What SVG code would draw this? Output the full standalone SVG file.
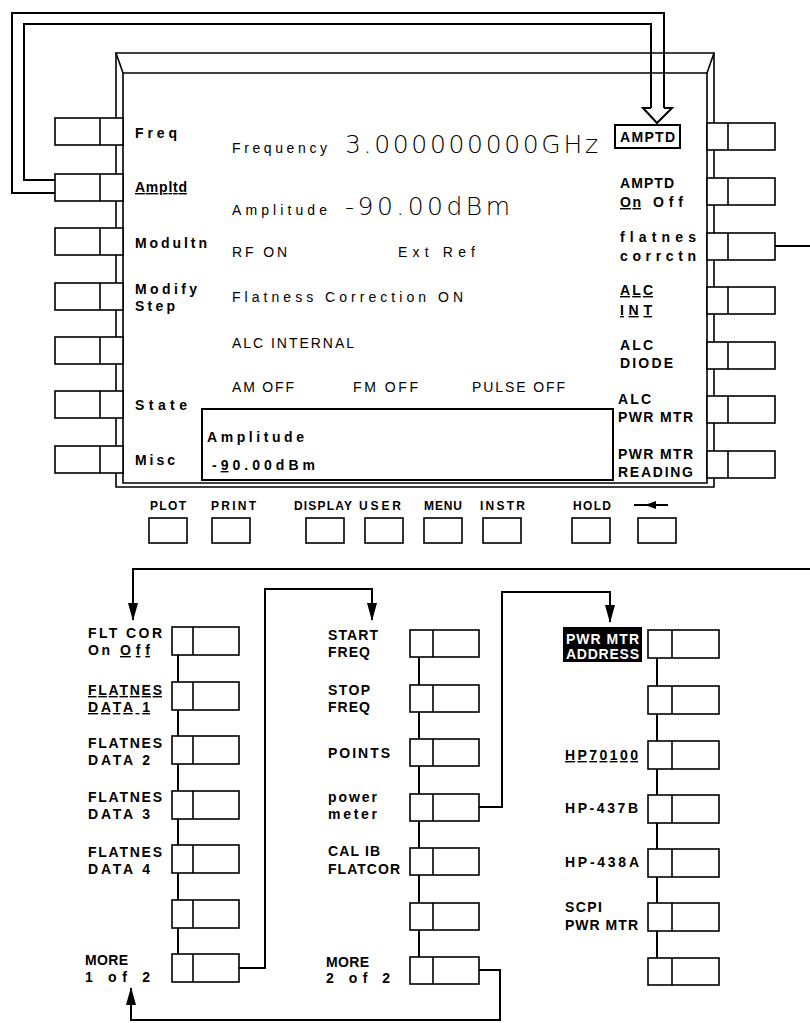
<svg xmlns="http://www.w3.org/2000/svg" width="810" height="1023" viewBox="0 0 810 1023">
<style>
.k{fill:#fff;stroke:#000;stroke-width:1.6}
.c{fill:none;stroke:#000;stroke-width:2}
.bz{fill:none;stroke:#000;stroke-width:1.6}
.lb{font-family:"Liberation Sans",Arial,sans-serif;font-weight:bold;font-size:14px;fill:#000}
.sm{font-size:12px}
.sc{font-family:"Liberation Sans",Arial,sans-serif;font-size:14px;fill:#000}
.big{font-family:"DejaVu Sans","Liberation Sans",sans-serif;font-size:25px;font-weight:200;fill:#000}
.u{text-decoration:underline}
.inv{fill:#fff}
</style>
<defs>
<marker id="ah" markerUnits="userSpaceOnUse" markerWidth="18" markerHeight="10" refX="17" refY="5" orient="auto">
<path d="M0,0 L18,5 L0,10 Z" fill="#000"/>
</marker>
</defs>
<rect width="810" height="1023" fill="#fff"/>

<g id="connectors">
<path class="c" d="M55,193 H12 V13 H664 V108"/>
<path class="c" d="M55,180 H24 V24 H651 V108"/>
<path class="c" d="M651,108 H643 L657,123 L672,108 H664" fill="#fff"/>
<path class="c" d="M775,246 H810"/>
<path class="c" d="M810,569 H133 V620" marker-end="url(#ah)"/>
<path class="c" d="M239,968 H265 V589 H372 V620" marker-end="url(#ah)"/>
<path class="c" d="M479,807 H502 V592 H610 V622" marker-end="url(#ah)"/>
<path class="c" d="M479,970 H500 V1020 H131 V988" marker-end="url(#ah)"/>
</g>

<g id="bezel">
<path class="bz" d="M116,53 H714 V487 H116 Z" stroke-width="2.4"/>
<path class="bz" d="M123,73 H707 V483 H123 Z"/>
<path class="bz" d="M116,53 L123,73 M714,53 L707,73"/>
</g>

<g id="screen">
<text class="sc" x="232" y="153" textLength="95" lengthAdjust="spacing">Frequency</text>
<text class="big" x="345" y="153" textLength="253" lengthAdjust="spacing">3.000000000GHz</text>
<text class="sc" x="232" y="215" textLength="95" lengthAdjust="spacing">Amplitude</text>
<text class="big" x="345" y="215" textLength="165" lengthAdjust="spacing">-90.00dBm</text>
<text class="sc" x="232" y="257" textLength="55" lengthAdjust="spacing">RF ON</text>
<text class="sc" x="398" y="257" textLength="77" lengthAdjust="spacing">Ext Ref</text>
<text class="sc" x="232" y="302" textLength="231" lengthAdjust="spacing">Flatness Correction ON</text>
<text class="sc" x="232" y="348" textLength="122" lengthAdjust="spacing">ALC INTERNAL</text>
<text class="sc" x="232" y="392" textLength="62" lengthAdjust="spacing">AM OFF</text>
<text class="sc" x="353" y="392" textLength="65" lengthAdjust="spacing">FM OFF</text>
<text class="sc" x="472" y="392" textLength="93" lengthAdjust="spacing">PULSE OFF</text>
</g>

<g id="entry-box">
<rect x="202" y="409" width="411" height="71" fill="#fff" stroke="#000" stroke-width="2"/>
<text class="lb" x="207" y="442" textLength="97" lengthAdjust="spacing">Amplitude</text>
<text class="lb" x="212" y="470" textLength="103" lengthAdjust="spacing">-<tspan class="u">9</tspan>0.00dBm</text>
</g>

<g id="left-keys">
<g id="key-freq"><rect class="k" x="55" y="118" width="68" height="27"/><line class="k" x1="100" y1="118" x2="100" y2="145"/><text class="lb" x="135" y="138" textLength="42" lengthAdjust="spacing">Freq</text></g>
<g id="key-ampltd"><rect class="k" x="55" y="174" width="68" height="27"/><line class="k" x1="100" y1="174" x2="100" y2="201"/><text class="lb u" x="135" y="192" textLength="52" lengthAdjust="spacing">Ampltd</text></g>
<g id="key-modultn"><rect class="k" x="55" y="228" width="68" height="27"/><line class="k" x1="100" y1="228" x2="100" y2="255"/><text class="lb" x="135" y="248" textLength="72" lengthAdjust="spacing">Modultn</text></g>
<g id="key-modify"><rect class="k" x="55" y="283" width="68" height="27"/><line class="k" x1="100" y1="283" x2="100" y2="310"/><text class="lb" x="135" y="294" textLength="62" lengthAdjust="spacing">Modify</text><text class="lb" x="135" y="311" textLength="40" lengthAdjust="spacing">Step</text></g>
<g id="key-blank1"><rect class="k" x="55" y="337" width="68" height="27"/><line class="k" x1="100" y1="337" x2="100" y2="364"/></g>
<g id="key-state"><rect class="k" x="55" y="391" width="68" height="27"/><line class="k" x1="100" y1="391" x2="100" y2="418"/><text class="lb" x="135" y="410" textLength="52" lengthAdjust="spacing">State</text></g>
<g id="key-misc"><rect class="k" x="55" y="446" width="68" height="27"/><line class="k" x1="100" y1="446" x2="100" y2="473"/><text class="lb" x="135" y="465" textLength="40" lengthAdjust="spacing">Misc</text></g>
</g>

<g id="right-keys">
<g id="key-amptd"><rect class="k" x="707" y="123" width="68" height="27"/><line class="k" x1="728" y1="123" x2="728" y2="150"/><rect x="615" y="125" width="65" height="23" fill="none" stroke="#000" stroke-width="2"/><text class="lb" x="620" y="142" textLength="55" lengthAdjust="spacing">AMPTD</text></g>
<g id="key-amptd-onoff"><rect class="k" x="707" y="178" width="68" height="27"/><line class="k" x1="728" y1="178" x2="728" y2="205"/><text class="lb" x="620" y="188" textLength="54" lengthAdjust="spacing">AMPTD</text><text class="lb u" x="620" y="207" textLength="21" lengthAdjust="spacing">On</text><text class="lb" x="653" y="207" textLength="30" lengthAdjust="spacing">Off</text></g>
<g id="key-flatnes"><rect class="k" x="707" y="233" width="68" height="27"/><line class="k" x1="728" y1="233" x2="728" y2="260"/><text class="lb" x="620" y="242" textLength="76" lengthAdjust="spacing">flatnes</text><text class="lb" x="620" y="261" textLength="76" lengthAdjust="spacing">corrctn</text></g>
<g id="key-alc-int"><rect class="k" x="707" y="287" width="68" height="27"/><line class="k" x1="728" y1="287" x2="728" y2="314"/><text class="lb u" x="620" y="295" textLength="33" lengthAdjust="spacing">ALC</text><text class="lb u" x="620" y="315" textLength="32" lengthAdjust="spacing">INT</text></g>
<g id="key-alc-diode"><rect class="k" x="707" y="342" width="68" height="27"/><line class="k" x1="728" y1="342" x2="728" y2="369"/><text class="lb" x="620" y="350" textLength="33" lengthAdjust="spacing">ALC</text><text class="lb" x="620" y="368" textLength="53" lengthAdjust="spacing">DIODE</text></g>
<g id="key-alc-pwr"><rect class="k" x="707" y="396" width="68" height="27"/><line class="k" x1="728" y1="396" x2="728" y2="423"/><text class="lb" x="618" y="404" textLength="33" lengthAdjust="spacing">ALC</text><text class="lb" x="618" y="422" textLength="75" lengthAdjust="spacing">PWR MTR</text></g>
<g id="key-pwr-reading"><rect class="k" x="707" y="451" width="68" height="27"/><line class="k" x1="728" y1="451" x2="728" y2="478"/><text class="lb" x="618" y="459" textLength="75" lengthAdjust="spacing">PWR MTR</text><text class="lb" x="618" y="477" textLength="75" lengthAdjust="spacing">READING</text></g>
</g>

<g id="bottom-keys">
<g id="key-plot"><text class="lb sm" x="150" y="510" textLength="36" lengthAdjust="spacing">PLOT</text><rect class="k" x="149" y="518" width="38" height="25"/></g>
<g id="key-print"><text class="lb sm" x="211" y="510" textLength="45" lengthAdjust="spacing">PRINT</text><rect class="k" x="212" y="518" width="38" height="25"/></g>
<g id="key-display"><text class="lb sm" x="294" y="510" textLength="58" lengthAdjust="spacing">DISPLAY</text><rect class="k" x="306" y="518" width="38" height="25"/></g>
<g id="key-user"><text class="lb sm" x="359" y="510" textLength="42" lengthAdjust="spacing">USER</text><rect class="k" x="365" y="518" width="38" height="25"/></g>
<g id="key-menu"><text class="lb sm" x="424" y="510" textLength="38" lengthAdjust="spacing">MENU</text><rect class="k" x="424" y="518" width="38" height="25"/></g>
<g id="key-instr"><text class="lb sm" x="480" y="510" textLength="45" lengthAdjust="spacing">INSTR</text><rect class="k" x="483" y="518" width="38" height="25"/></g>
<g id="key-hold"><text class="lb sm" x="573" y="510" textLength="38" lengthAdjust="spacing">HOLD</text><rect class="k" x="572" y="518" width="38" height="25"/></g>
<g id="key-back"><path d="M634,505 H668" stroke="#000" stroke-width="2"/><path d="M645,505 L656,501 V509 Z" fill="#000"/><rect class="k" x="638" y="518" width="38" height="25"/></g>
</g>

<g id="menu-1">
<line class="c" x1="178" y1="640" x2="178" y2="970" stroke-width="2.2"/>
<g id="key-fltcor"><rect class="k" x="172" y="627" width="67" height="28"/><line class="k" x1="193" y1="627" x2="193" y2="655"/><text class="lb" x="88" y="638" textLength="74" lengthAdjust="spacing">FLT COR</text><text class="lb" x="88" y="655" textLength="22" lengthAdjust="spacing">On</text><text class="lb u" x="120" y="655" textLength="30" lengthAdjust="spacing">Off</text></g>
<g id="key-fdata1"><rect class="k" x="172" y="682" width="67" height="28"/><line class="k" x1="193" y1="682" x2="193" y2="710"/><text class="lb u" x="88" y="695" textLength="74" lengthAdjust="spacing">FLATNES</text><text class="lb u" x="88" y="712" textLength="62" lengthAdjust="spacing">DATA 1</text></g>
<g id="key-fdata2"><rect class="k" x="172" y="736" width="67" height="28"/><line class="k" x1="193" y1="736" x2="193" y2="764"/><text class="lb" x="88" y="748" textLength="74" lengthAdjust="spacing">FLATNES</text><text class="lb" x="88" y="765" textLength="62" lengthAdjust="spacing">DATA 2</text></g>
<g id="key-fdata3"><rect class="k" x="172" y="791" width="67" height="28"/><line class="k" x1="193" y1="791" x2="193" y2="819"/><text class="lb" x="88" y="802" textLength="74" lengthAdjust="spacing">FLATNES</text><text class="lb" x="88" y="819" textLength="62" lengthAdjust="spacing">DATA 3</text></g>
<g id="key-fdata4"><rect class="k" x="172" y="845" width="67" height="28"/><line class="k" x1="193" y1="845" x2="193" y2="873"/><text class="lb" x="88" y="857" textLength="74" lengthAdjust="spacing">FLATNES</text><text class="lb" x="88" y="874" textLength="62" lengthAdjust="spacing">DATA 4</text></g>
<g id="key-m1-blank"><rect class="k" x="172" y="900" width="67" height="28"/><line class="k" x1="193" y1="900" x2="193" y2="928"/></g>
<g id="key-more1"><rect class="k" x="172" y="954" width="67" height="28"/><line class="k" x1="193" y1="954" x2="193" y2="982"/><text class="lb" x="85" y="965" textLength="43" lengthAdjust="spacing">MORE</text><text class="lb" x="85" y="982" textLength="65" lengthAdjust="spacing">1 of 2</text></g>
</g>

<g id="menu-2">
<line class="c" x1="419" y1="640" x2="419" y2="970" stroke-width="2.2"/>
<g id="key-start"><rect class="k" x="410" y="630" width="69" height="27"/><line class="k" x1="433" y1="630" x2="433" y2="657"/><text class="lb" x="328" y="640" textLength="50" lengthAdjust="spacing">START</text><text class="lb" x="328" y="657" textLength="42" lengthAdjust="spacing">FREQ</text></g>
<g id="key-stop"><rect class="k" x="410" y="685" width="69" height="27"/><line class="k" x1="433" y1="685" x2="433" y2="712"/><text class="lb" x="328" y="695" textLength="42" lengthAdjust="spacing">STOP</text><text class="lb" x="328" y="712" textLength="42" lengthAdjust="spacing">FREQ</text></g>
<g id="key-points"><rect class="k" x="410" y="739" width="69" height="27"/><line class="k" x1="433" y1="739" x2="433" y2="766"/><text class="lb" x="328" y="758" textLength="62" lengthAdjust="spacing">POINTS</text></g>
<g id="key-power"><rect class="k" x="410" y="794" width="69" height="27"/><line class="k" x1="433" y1="794" x2="433" y2="821"/><text class="lb" x="328" y="802" textLength="49" lengthAdjust="spacing">power</text><text class="lb" x="328" y="819" textLength="49" lengthAdjust="spacing">meter</text></g>
<g id="key-calib"><rect class="k" x="410" y="848" width="69" height="27"/><line class="k" x1="433" y1="848" x2="433" y2="875"/><text class="lb" x="328" y="856" textLength="52" lengthAdjust="spacing">CAL IB</text><text class="lb" x="328" y="874" textLength="72" lengthAdjust="spacing">FLATCOR</text></g>
<g id="key-m2-blank"><rect class="k" x="410" y="903" width="69" height="27"/><line class="k" x1="433" y1="903" x2="433" y2="930"/></g>
<g id="key-more2"><rect class="k" x="410" y="957" width="69" height="27"/><line class="k" x1="433" y1="957" x2="433" y2="984"/><text class="lb" x="326" y="967" textLength="43" lengthAdjust="spacing">MORE</text><text class="lb" x="326" y="983" textLength="64" lengthAdjust="spacing">2 of 2</text></g>
</g>

<g id="menu-3">
<line class="c" x1="657" y1="640" x2="657" y2="970" stroke-width="2.2"/>
<g id="key-pwraddr"><rect class="k" x="648" y="630" width="71" height="28"/><line class="k" x1="672" y1="630" x2="672" y2="658"/><rect x="563" y="627" width="79" height="35" fill="#000"/><text class="lb inv" x="566" y="644" textLength="73" lengthAdjust="spacing">PWR MTR</text><text class="lb inv" x="566" y="659" textLength="73" lengthAdjust="spacing">ADDRESS</text></g>
<g id="key-m3-blank1"><rect class="k" x="648" y="686" width="71" height="28"/><line class="k" x1="672" y1="686" x2="672" y2="714"/></g>
<g id="key-hp70100"><rect class="k" x="648" y="741" width="71" height="28"/><line class="k" x1="672" y1="741" x2="672" y2="769"/><text class="lb u" x="565" y="760" textLength="73" lengthAdjust="spacing">HP70100</text></g>
<g id="key-hp437b"><rect class="k" x="648" y="795" width="71" height="28"/><line class="k" x1="672" y1="795" x2="672" y2="823"/><text class="lb" x="565" y="813" textLength="73" lengthAdjust="spacing">HP-437B</text></g>
<g id="key-hp438a"><rect class="k" x="648" y="849" width="71" height="28"/><line class="k" x1="672" y1="849" x2="672" y2="877"/><text class="lb" x="565" y="867" textLength="74" lengthAdjust="spacing">HP-438A</text></g>
<g id="key-scpi"><rect class="k" x="648" y="903" width="71" height="28"/><line class="k" x1="672" y1="903" x2="672" y2="931"/><text class="lb" x="565" y="912" textLength="37" lengthAdjust="spacing">SCPI</text><text class="lb" x="565" y="930" textLength="73" lengthAdjust="spacing">PWR MTR</text></g>
<g id="key-m3-blank2"><rect class="k" x="648" y="958" width="71" height="27"/><line class="k" x1="672" y1="958" x2="672" y2="985"/></g>
</g>
</svg>
